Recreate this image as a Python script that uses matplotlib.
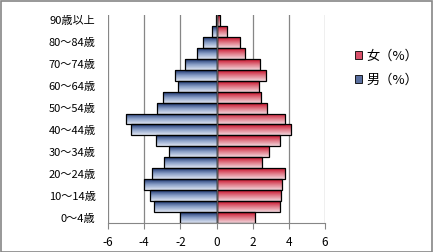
import matplotlib
matplotlib.use('Agg')
import matplotlib.pyplot as plt
import numpy as np
from matplotlib.colors import LinearSegmentedColormap
from matplotlib.patches import Patch

plt.rcParams['font.family'] = ['Noto Sans CJK JP', 'DejaVu Sans']

# age groups, bottom to top
ages = ['0～4歳', '5～9歳', '10～14歳', '15～19歳', '20～24歳', '25～29歳', '30～34歳',
        '35～39歳', '40～44歳', '45～49歳', '50～54歳', '55～59歳', '60～64歳', '65～69歳',
        '70～74歳', '75～79歳', '80～84歳', '85～89歳', '90歳以上']
male = [-2.0, -3.44, -3.66, -3.99, -3.55, -2.89, -2.61, -3.33, -4.75, -4.99,
        -3.27, -2.94, -2.11, -2.28, -1.73, -1.06, -0.73, -0.23, -0.05]
female = [2.15, 3.53, 3.57, 3.64, 3.81, 2.53, 2.92, 3.53, 4.12, 3.81,
          2.81, 2.48, 2.37, 2.75, 2.42, 1.6, 1.3, 0.6, 0.18]
xticks = [-6, -4, -2, 0, 2, 4, 6]

W, H = 433, 252
fig = plt.figure(figsize=(W / 100, H / 100), dpi=100)
ax = fig.add_axes([108 / W, (H - 223) / H, (325 - 108) / W, (223 - 15) / H])

cm_m = LinearSegmentedColormap.from_list('m', ['#dfe5f2', '#8aa0c8', '#1c3470'])
cm_f = LinearSegmentedColormap.from_list('f', ['#f2d6dc', '#e07a88', '#c8102a'])
grad = np.linspace(0, 1, 64).reshape(-1, 1)

y = np.arange(len(ages))
for vals, cm in [(male, cm_m), (female, cm_f)]:
    bars = ax.barh(y, vals, height=1.0, color='none', edgecolor='black', linewidth=0.9, zorder=3)
    for b in bars:
        x0, y0 = b.get_x(), b.get_y()
        w, h = b.get_width(), b.get_height()
        im = ax.imshow(grad, cmap=cm, aspect='auto', origin='lower',
                       extent=[x0, x0 + w, y0, y0 + h], zorder=2)
        im.set_clip_path(b)

ax.set_xlim(-6, 6)
ax.set_ylim(-0.5, len(ages) - 0.5)
ax.set_xticks(xticks)
ax.set_xticklabels([str(t) for t in xticks], fontsize=8.5)
ax.set_yticks(y[::2])
ax.set_yticklabels(ages[::2], fontsize=8)
ax.tick_params(axis='y', length=0, pad=9)
ax.tick_params(axis='x', length=4, color='#868686', pad=5)
for t in xticks:
    if t != 0:
        ax.axvline(t, color='#868686', linewidth=0.9, zorder=1)
ax.axvline(0, color='#555555', linewidth=1.0, zorder=4)
for s in ['top', 'left', 'right']:
    ax.spines[s].set_visible(False)
ax.spines['bottom'].set_color('#868686')

handles = [Patch(facecolor='#d9506a', edgecolor='black', linewidth=0.6, label='女（%）'),
           Patch(facecolor='#5a6f9f', edgecolor='black', linewidth=0.6, label='男（%）')]
fig.legend(handles=handles, loc='upper left', bbox_to_anchor=(343 / W, 1 - 38 / H),
           frameon=False, fontsize=9.5, handlelength=0.55, handleheight=0.55,
           handletextpad=0.3, labelspacing=0.85)

fig.patches.append(plt.Rectangle((0.5 / W, 0.5 / H), 1 - 1.5 / W, 1 - 1.5 / H,
                                 transform=fig.transFigure, fill=False,
                                 edgecolor='#868686', linewidth=1.2))
fig.savefig('out.png', dpi=100)
